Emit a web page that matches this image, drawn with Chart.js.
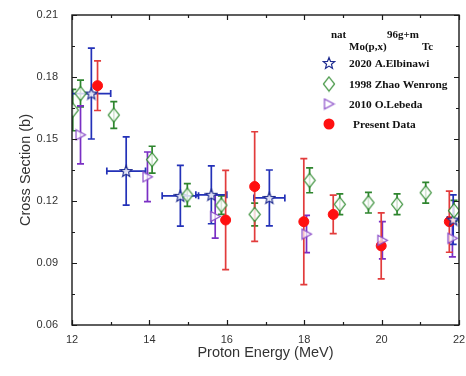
<!DOCTYPE html>
<html>
<head>
<meta charset="utf-8">
<script src="https://cdn.jsdelivr.net/npm/chart.js@4.4.0/dist/chart.umd.min.js"></script>
<style>
  html, body { margin: 0; padding: 0; background: #fff; }
  #wrap { width: 466px; height: 376px; }
</style>
</head>
<body>
<div id="wrap"><canvas id="xsChart"></canvas></div>
<script>
// values: energy (MeV), cross section (b) and their errors
const elbEnergy = [12.5, 13.4, 14.8, 15.6, 17.1, 21.85];
const elbEnergyErr = [0.5, 0.5, 0.47, 0.4, 0.4, 0.15];
const elbXs = [0.172, 0.1345, 0.1225, 0.123, 0.1215, 0.111];
const elbXsErr = [0.022, 0.0165, 0.0147, 0.014, 0.0135, 0.012];

const zhaoEnergy = [12.02, 12.22, 13.08, 14.07, 14.98, 15.86, 16.72, 18.14, 18.92, 19.66, 20.4, 21.14, 21.87];
const zhaoXs = [0.164, 0.172, 0.1616, 0.140, 0.1229, 0.118, 0.1135, 0.130, 0.1184, 0.1192, 0.1184, 0.124, 0.1153];
const zhaoXsErr = [0.01, 0.0065, 0.0065, 0.0065, 0.0055, 0.0045, 0.0055, 0.006, 0.005, 0.005, 0.005, 0.005, 0.005];

const lebEnergy = [12.22, 13.95, 15.7, 18.06, 20.02, 21.83];
const lebXs = [0.152, 0.1317, 0.1125, 0.104, 0.101, 0.102];
const lebXsErr = [0.014, 0.012, 0.0105, 0.009, 0.009, 0.009];

const presEnergy = [12.66, 15.97, 16.72, 17.99, 18.75, 19.99, 21.75];
const presXs = [0.1758, 0.1108, 0.127, 0.110, 0.1135, 0.0983, 0.110];
const presXsErr = [0.012, 0.024, 0.0265, 0.0305, 0.0093, 0.016, 0.0148];

const xTicks = [12, 14, 16, 18, 20, 22];
const yTicks = [0.06, 0.09, 0.12, 0.15, 0.18, 0.21];

const seriesNames = ['2020 A.Elbinawi', '1998 Zhao Wenrong', '2010 O.Lebeda', 'Present Data'];

function points(xs, ys, dys, dxs) {
  return xs.map((x, i) => ({ x: x, y: ys[i], dy: dys ? dys[i] : 0, dx: dxs ? dxs[i] : 0 }));
}

// small canvases used as point markers
function marker(w, h, draw) {
  const c = document.createElement('canvas');
  c.width = w; c.height = h;
  draw(c.getContext('2d'), w, h);
  return c;
}

function starPath(g, cx, cy, R, r) {
  g.beginPath();
  for (let i = 0; i < 10; i++) {
    const a = -Math.PI / 2 + i * Math.PI / 5;
    const rad = i % 2 ? r : R;
    const px = cx + rad * Math.cos(a), py = cy + rad * Math.sin(a);
    i ? g.lineTo(px, py) : g.moveTo(px, py);
  }
  g.closePath();
}

const starImg = marker(14, 14, (g) => {
  starPath(g, 7, 7.5, 6, 2.6);
  g.fillStyle = 'rgba(255,255,255,0.85)';
  g.fill();
  g.strokeStyle = '#1d2a8f';
  g.lineWidth = 1.2;
  g.stroke();
});

const diamondImg = marker(14, 17, (g) => {
  g.beginPath();
  g.moveTo(7, 1.5); g.lineTo(12.5, 8.5); g.lineTo(7, 15.5); g.lineTo(1.5, 8.5);
  g.closePath();
  g.fillStyle = 'rgba(255,255,255,0.8)';
  g.fill();
  g.strokeStyle = '#2f8a2f';
  g.lineWidth = 1.2;
  g.stroke();
});

const triImg = marker(13, 13, (g) => {
  g.beginPath();
  g.moveTo(2, 1.5); g.lineTo(11.5, 6.5); g.lineTo(2, 11.5);
  g.closePath();
  g.fillStyle = 'rgba(255,255,255,0.7)';
  g.fill();
  g.strokeStyle = '#8a4cc8';
  g.lineWidth = 1.2;
  g.stroke();
});

// error bars, drawn under the markers
const errorBars = {
  id: 'errorBars',
  beforeDatasetsDraw(chart) {
    const { ctx, chartArea: a, scales: { x, y } } = chart;
    ctx.save();
    ctx.beginPath();
    ctx.rect(a.left, a.top, a.right - a.left, a.bottom - a.top);
    ctx.clip();
    chart.data.datasets.forEach(ds => {
      ctx.strokeStyle = ds.errColor;
      ctx.lineWidth = 1.7;
      ds.data.forEach(p => {
        const px = x.getPixelForValue(p.x), py = y.getPixelForValue(p.y);
        ctx.beginPath();
        if (p.dy) {
          const t = y.getPixelForValue(p.y + p.dy), b = y.getPixelForValue(p.y - p.dy);
          ctx.moveTo(px, t); ctx.lineTo(px, b);
          ctx.moveTo(px - 3.5, t); ctx.lineTo(px + 3.5, t);
          ctx.moveTo(px - 3.5, b); ctx.lineTo(px + 3.5, b);
        }
        if (p.dx) {
          const l = x.getPixelForValue(p.x - p.dx), r = x.getPixelForValue(p.x + p.dx);
          ctx.moveTo(l, py); ctx.lineTo(r, py);
          ctx.moveTo(l, py - 3.5); ctx.lineTo(l, py + 3.5);
          ctx.moveTo(r, py - 3.5); ctx.lineTo(r, py + 3.5);
        }
        ctx.stroke();
      });
    });
    ctx.restore();
  }
};

// box frame with inward ticks on all four sides
const frame = {
  id: 'frame',
  afterDatasetsDraw(chart) {
    const { ctx, chartArea: a, scales: { x, y } } = chart;
    ctx.save();
    ctx.strokeStyle = '#1a1a1a';
    ctx.lineWidth = 1.4;
    ctx.strokeRect(a.left, a.top, a.right - a.left, a.bottom - a.top);
    ctx.lineWidth = 1.2;
    ctx.beginPath();
    for (let v = 12; v <= 22.001; v += 1) {
      const px = Math.round(x.getPixelForValue(v)) + 0.5;
      const len = (Math.round(v) % 2 === 0) ? 5 : 3;
      ctx.moveTo(px, a.bottom); ctx.lineTo(px, a.bottom - len);
      ctx.moveTo(px, a.top); ctx.lineTo(px, a.top + len);
    }
    for (let k = 0; k <= 10; k++) {
      const v = 0.06 + k * 0.015;
      const py = Math.round(y.getPixelForValue(v)) + 0.5;
      const len = k % 2 === 0 ? 5 : 3;
      ctx.moveTo(a.left, py); ctx.lineTo(a.left + len, py);
      ctx.moveTo(a.right, py); ctx.lineTo(a.right - len, py);
    }
    ctx.stroke();
    ctx.restore();
  }
};

// legend inside the plot, with the reaction as its heading
const legendBox = {
  id: 'legendBox',
  afterDraw(chart) {
    const ctx = chart.ctx;
    ctx.save();
    ctx.fillStyle = '#111';
    ctx.textAlign = 'left';
    ctx.textBaseline = 'alphabetic';
    ctx.font = 'bold 11px "Liberation Serif", serif';
    ctx.fillText('nat', 331, 38);
    ctx.fillText('Mo(p,x)', 349, 50);
    ctx.fillText('96g+m', 387, 38);
    ctx.fillText('Tc', 422, 50);

    const rows = [63, 84, 104, 124];
    const imgs = [starImg, diamondImg, triImg, null];
    ctx.font = 'bold 11.4px "Liberation Serif", serif';
    rows.forEach((ry, i) => {
      if (imgs[i]) {
        ctx.drawImage(imgs[i], 329 - imgs[i].width / 2, ry - imgs[i].height / 2);
      } else {
        ctx.beginPath();
        ctx.arc(329, ry, 5.5, 0, Math.PI * 2);
        ctx.fillStyle = '#ff1010';
        ctx.fill();
        ctx.fillStyle = '#111';
      }
      ctx.fillText(seriesNames[i], i === 3 ? 353 : 349, ry + 4);
    });
    ctx.restore();
  }
};

const ctx = document.getElementById('xsChart').getContext('2d');
new Chart(ctx, {
  type: 'scatter',
  data: {
    datasets: [
      {
        label: seriesNames[1],
        data: points(zhaoEnergy, zhaoXs, zhaoXsErr),
        pointStyle: diamondImg,
        errColor: '#2e852e'
      },
      {
        label: seriesNames[2],
        data: points(lebEnergy, lebXs, lebXsErr),
        pointStyle: triImg,
        errColor: '#7a2fc4'
      },
      {
        label: seriesNames[0],
        data: points(elbEnergy, elbXs, elbXsErr, elbEnergyErr),
        pointStyle: starImg,
        errColor: '#2331b8'
      },
      {
        label: seriesNames[3],
        data: points(presEnergy, presXs, presXsErr),
        pointStyle: 'circle',
        pointRadius: 5,
        backgroundColor: '#ff1010',
        borderColor: '#ff1010',
        errColor: '#e23c3c'
      }
    ]
  },
  options: {
    responsive: true,
    maintainAspectRatio: false,
    animation: false,
    layout: { padding: { left: 0, right: 7, top: 15, bottom: 0 } },
    plugins: {
      legend: { display: false },
      tooltip: { enabled: false }
    },
    scales: {
      x: {
        type: 'linear',
        min: 12,
        max: 22,
        afterFit: (s) => { s.height = 51; s.paddingLeft = 0; s.paddingRight = 0; },
        afterBuildTicks: (s) => { s.ticks = xTicks.map(v => ({ value: v })); },
        grid: { display: false, drawTicks: false },
        border: { display: false },
        ticks: { padding: 8, color: '#333', font: { family: 'Liberation Sans', size: 11 } },
        title: {
          display: true,
          text: 'Proton Energy (MeV)',
          color: '#333',
          font: { family: 'Liberation Sans', size: 14.5 },
          padding: { top: 0, bottom: 14 }
        }
      },
      y: {
        type: 'linear',
        min: 0.06,
        max: 0.21,
        afterFit: (s) => { s.width = 72; s.paddingTop = 0; s.paddingBottom = 0; },
        afterBuildTicks: (s) => { s.ticks = yTicks.map(v => ({ value: v })); },
        grid: { display: false, drawTicks: false },
        border: { display: false },
        ticks: {
          padding: 14,
          color: '#333',
          font: { family: 'Liberation Sans', size: 11 },
          callback: (v) => v.toFixed(2)
        },
        title: {
          display: true,
          text: 'Cross Section (b)',
          color: '#333',
          font: { family: 'Liberation Sans', size: 14.5 },
          padding: { top: 17, bottom: 0 }
        }
      }
    }
  },
  plugins: [errorBars, frame, legendBox]
});
</script>
</body>
</html>
